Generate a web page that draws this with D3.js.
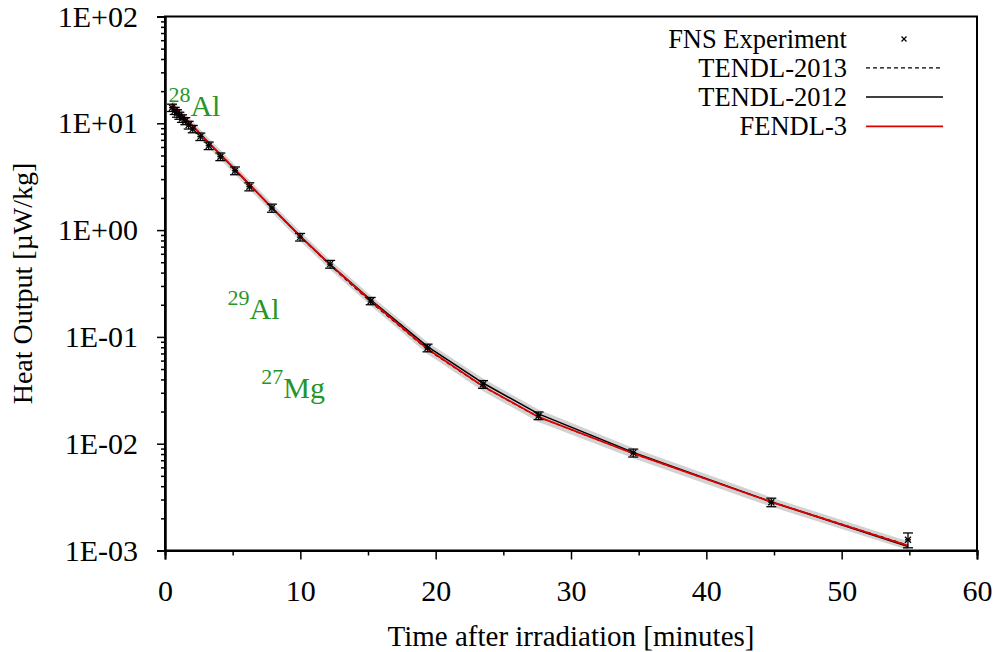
<!DOCTYPE html>
<html><head><meta charset="utf-8">
<script src="https://cdn.jsdelivr.net/npm/d3@7"></script>
<style>
html,body{margin:0;padding:0;background:#fff;}
svg{display:block;}
text{font-family:"Liberation Serif","Times New Roman",serif;}
</style></head>
<body>
<svg id="chart" width="1000" height="652"></svg>
<script>
// ---- data ----
const times      = [0.52,0.72,0.89,1.06,1.26,1.50,1.75,2.05,2.61,3.23,4.09,5.17,6.23,7.9,9.98,12.2,15.2,19.4,23.5,27.6,34.6,44.8,54.9];
const expValues  = [14.0,13.1,12.4,11.8,11.1,10.5,9.64,8.85,7.50,6.17,4.87,3.60,2.55,1.61,0.86,0.48,0.217,0.079,0.036,0.0183,0.0082,0.00283,0.00126];
const expErrors  = [1.1,1.0,1.0,0.9,0.9,0.8,0.8,0.7,0.6,0.5,0.4,0.3,0.22,0.14,0.07,0.04,0.017,0.0065,0.003,0.0015,0.0007,0.00026,0.0002];
const fendl3     = [15.2,14.2,13.4,12.7,11.9,11.1,10.3,9.45,7.95,6.55,5.1,3.7,2.68,1.62,0.88,0.475,0.218,0.077,0.0345,0.0178,0.0081,0.00285,0.00111];
const tendl2013  = [15.2,14.2,13.4,12.7,11.9,11.1,10.3,9.45,7.95,6.55,5.1,3.7,2.68,1.62,0.875,0.468,0.212,0.076,0.0343,0.0177,0.0081,0.00286,0.00112];
const tendl2012  = [15.2,14.2,13.4,12.7,11.9,11.1,10.3,9.45,7.95,6.55,5.1,3.7,2.68,1.62,0.88,0.476,0.222,0.081,0.037,0.019,0.0083,0.00285,0.00109];
const bandLow    = [13.7,12.8,12.1,11.4,10.7,10.0,9.27,8.5,7.16,5.9,4.59,3.33,2.41,1.46,0.79,0.428,0.196,0.069,0.031,0.016,0.0073,0.00257,0.00101];
const bandHigh   = [16.7,15.6,14.7,14.0,13.1,12.2,11.3,10.4,8.75,7.2,5.61,4.07,2.95,1.78,0.97,0.524,0.244,0.089,0.0407,0.0209,0.0091,0.00314,0.00122];
const xTicks     = [0,10,20,30,40,50,60];
const xMinorTicks= [5,15,25,35,45,55];
const yTicks     = [100,10,1,0.1,0.01,0.001];
const yTickLabels= ["1E+02","1E+01","1E+00","1E-01","1E-02","1E-03"];
const legendNames= ["FNS Experiment","TENDL-2013","TENDL-2012","FENDL-3"];
const isotopeLabels = [
  {sup:"28", base:"Al", t:0.25, v:11.7},
  {sup:"29", base:"Al", t:4.62, v:0.147},
  {sup:"27", base:"Mg", t:7.12, v:0.0268}
];

// ---- layout ----
const svg = d3.select("#chart");
const X0 = 165, X1 = 977, Y0 = 16.5, Y1 = 550.5;
const x = d3.scaleLinear().domain([0,60]).range([X0,X1]);
const y = d3.scaleLog().domain([0.001,100]).range([Y1,Y0]);
const FONT = 28, TICKFONT = 30, LEGFONT = 26.5;

// gray uncertainty band
const bandData = times.map((t,i)=>({t, lo:bandLow[i], hi:bandHigh[i]}));
svg.append("path").datum(bandData)
  .attr("d", d3.area().x(d=>x(d.t)).y0(d=>y(d.lo)).y1(d=>y(d.hi)))
  .attr("fill","#d2d2d2").attr("stroke","none");

// curves
function curve(vals, color, width, dash){
  svg.append("path").datum(times.map((t,i)=>[t,vals[i]]))
    .attr("d", d3.line().x(d=>x(d[0])).y(d=>y(d[1])))
    .attr("fill","none").attr("stroke",color).attr("stroke-width",width)
    .attr("stroke-dasharray", dash || null);
}
curve(tendl2012,"#000",1.5);
curve(tendl2013,"#000",1.2,"4,3");
curve(fendl3,"#e00000",1.8);

// experimental points with error bars
const pts = svg.append("g");
times.forEach((t,i)=>{
  const cx = x(t), v = expValues[i], e = expErrors[i];
  const yl = y(v-e), yh = y(v+e), cy = y(v);
  const g = pts.append("g").attr("stroke","#000").attr("stroke-width",1.3);
  g.append("line").attr("x1",cx).attr("x2",cx).attr("y1",yl).attr("y2",yh);
  g.append("line").attr("x1",cx-5).attr("x2",cx+5).attr("y1",yl).attr("y2",yl);
  g.append("line").attr("x1",cx-5).attr("x2",cx+5).attr("y1",yh).attr("y2",yh);
  const s=3;
  g.append("line").attr("x1",cx-s).attr("x2",cx+s).attr("y1",cy-s).attr("y2",cy+s);
  g.append("line").attr("x1",cx-s).attr("x2",cx+s).attr("y1",cy+s).attr("y2",cy-s);
  g.append("line").attr("x1",cx-s).attr("x2",cx+s).attr("y1",cy).attr("y2",cy);
});

// frame
svg.append("rect").attr("x",X0).attr("y",Y0).attr("width",X1-X0).attr("height",Y1-Y0)
  .attr("fill","none").attr("stroke","#000").attr("stroke-width",2);

// x axis
svg.append("g").attr("transform",`translate(0,${Y1})`)
  .call(d3.axisBottom(x).tickValues(xTicks).tickSize(9).tickPadding(20).tickFormat(d3.format("d")));
svg.append("g").attr("transform",`translate(0,${Y1})`)
  .call(d3.axisBottom(x).tickValues(xMinorTicks).tickSize(5).tickFormat(""));
// y axis
svg.append("g").attr("transform",`translate(${X0},0)`)
  .call(d3.axisLeft(y).tickValues(yTicks).tickSize(8).tickPadding(19).tickFormat((d,i)=>yTickLabels[i]));
const yMinor = [];
for (let k=-3;k<2;k++) for (let m=2;m<10;m++) yMinor.push(m*Math.pow(10,k));
svg.append("g").attr("transform",`translate(${X0},0)`)
  .call(d3.axisLeft(y).tickValues(yMinor).tickSize(4).tickFormat(""));
svg.selectAll(".domain").attr("stroke","#000").attr("stroke-width",2);
svg.selectAll(".tick line").attr("stroke","#000").attr("stroke-width",1.5);
svg.selectAll(".tick text").attr("font-family","Liberation Serif").attr("font-size",TICKFONT).attr("fill","#000");

// axis titles
svg.append("text").attr("x",(X0+X1)/2).attr("y",646).attr("text-anchor","middle")
  .attr("font-size",FONT+1).text("Time after irradiation [minutes]");
svg.append("text").attr("transform",`translate(32,${(Y0+Y1)/2}) rotate(-90)`).attr("text-anchor","middle")
  .attr("font-size",FONT).text("Heat Output [\u00b5W/kg]");

// legend
const legY = [47.5,76.8,106.1,135.4];
const lg = svg.append("g");
legendNames.forEach((n,i)=>{
  lg.append("text").attr("x",847).attr("y",legY[i]).attr("text-anchor","end").attr("font-size",LEGFONT).text(n);
});
const mx = 904, my = legY[0]-8.5;
lg.append("line").attr("x1",mx-2.5).attr("x2",mx+2.5).attr("y1",my-2.5).attr("y2",my+2.5).attr("stroke","#000").attr("stroke-width",1.2);
lg.append("line").attr("x1",mx-2.5).attr("x2",mx+2.5).attr("y1",my+2.5).attr("y2",my-2.5).attr("stroke","#000").attr("stroke-width",1.2);
lg.append("line").attr("x1",866).attr("x2",943).attr("y1",legY[1]-9).attr("y2",legY[1]-9).attr("stroke","#000").attr("stroke-width",1.2).attr("stroke-dasharray","4,3");
lg.append("line").attr("x1",866).attr("x2",943).attr("y1",legY[2]-9).attr("y2",legY[2]-9).attr("stroke","#000").attr("stroke-width",1.5);
lg.append("line").attr("x1",866).attr("x2",943).attr("y1",legY[3]-9).attr("y2",legY[3]-9).attr("stroke","#e00000").attr("stroke-width",1.8);

// isotope labels
const green = "#279627";
isotopeLabels.forEach(l=>{
  const t = svg.append("text").attr("x",x(l.t)).attr("y",y(l.v)).attr("fill",green).attr("font-size",30);
  t.append("tspan").attr("font-size",22).attr("dy",-14).text(l.sup);
  t.append("tspan").attr("dy",14).text(l.base);
});
</script>
</body></html>
